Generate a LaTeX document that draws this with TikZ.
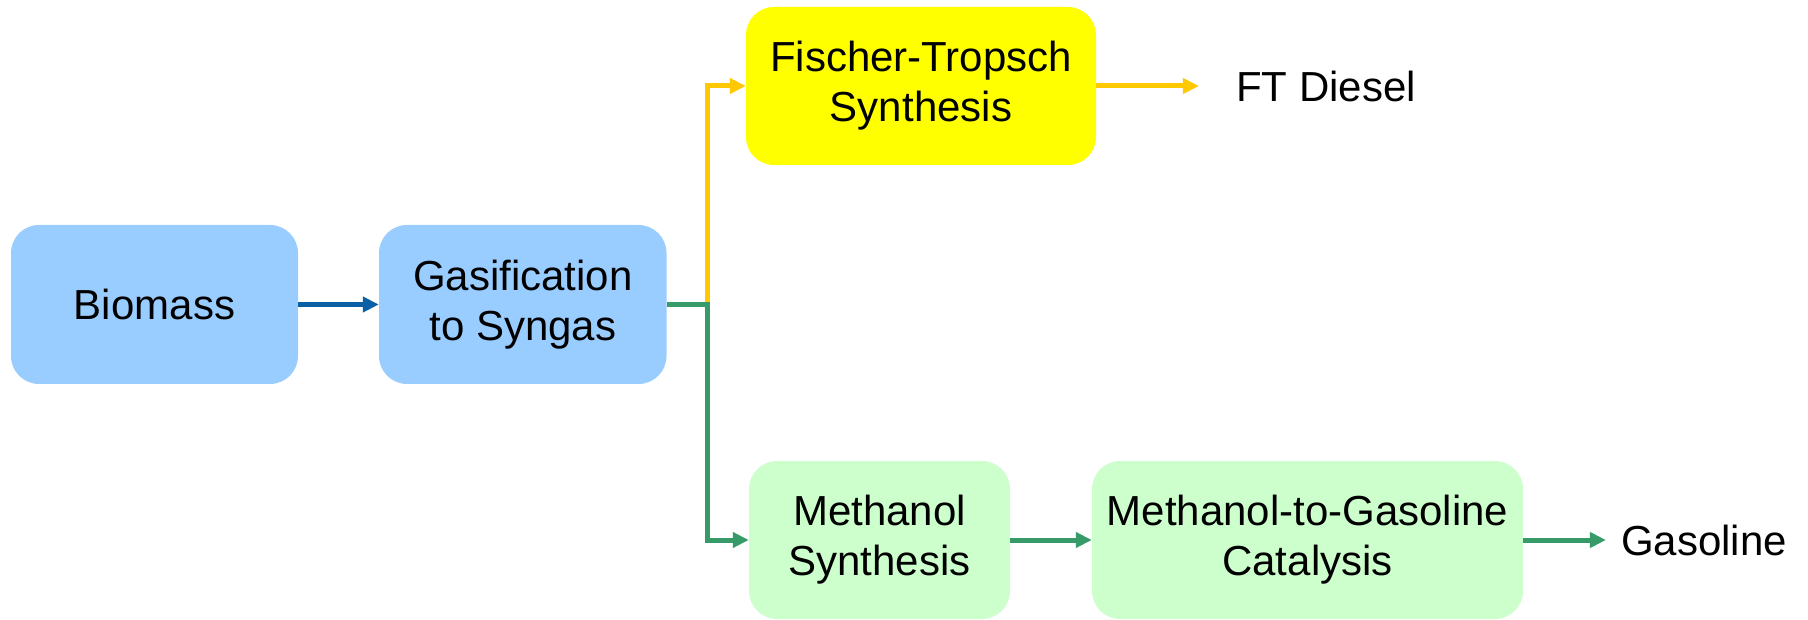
\documentclass[tikz,border=0pt]{standalone}
\usepackage{fontspec}
\setmainfont{Liberation Sans}
\usetikzlibrary{arrows.meta}
\definecolor{boxblue}{HTML}{99CCFF}
\definecolor{boxyellow}{HTML}{FFFF00}
\definecolor{boxgreen}{HTML}{CCFFCC}
\definecolor{lineblue}{HTML}{0B5FA5}
\definecolor{lineyellow}{HTML}{FFC800}
\definecolor{linegreen}{HTML}{369B68}
\tikzset{
  procbox/.style={rounded corners=28pt, align=center, inner sep=0pt,
    font=\fontsize{42}{50}\selectfont},
  label/.style={font=\fontsize{42}{50}\selectfont, inner ysep=0pt},
  flow/.style={line width=5pt, -{Triangle[length=16pt,width=15pt]}},
}
\begin{document}
\begin{tikzpicture}[x=1pt,y=1pt]
\useasboundingbox (0,0) rectangle (1808,-620);
\node[procbox, fill=boxblue, minimum width=287pt, minimum height=159pt] (bio) at (154.5,-304.5) {Biomass};
\node[procbox, fill=boxblue, minimum width=287.5pt, minimum height=159pt] (gas) at (522.75,-304.5) {Gasification\\to Syngas};
\node[procbox, fill=boxyellow, minimum width=350pt, minimum height=158pt] (ft) at (921,-86) {Fischer-Tropsch\\Synthesis};
\node[procbox, fill=boxgreen, minimum width=261pt, minimum height=158pt] (meth) at (879.5,-540) {Methanol\\Synthesis};
\node[procbox, fill=boxgreen, minimum width=431pt, minimum height=158pt] (mtg) at (1307.5,-540) {Methanol-to-Gasoline\\Catalysis};
\node[label, inner xsep=37pt] (diesel) at (1326,-86) {FT Diesel};
\node[label, inner xsep=15pt] (gasoline) at (1704,-540) {Gasoline};
\coordinate (j) at (707,-304.5);
\draw[flow, lineblue] (bio) -- (gas);
\draw[flow, lineyellow] (j) |- (ft.west);
\draw[flow, linegreen] (gas.east) -- (j) |- (meth.west);
\draw[flow, lineyellow] (ft.east) -- (diesel.west);
\draw[flow, linegreen] (meth.east) -- (mtg.west);
\draw[flow, linegreen] (mtg.east) -- (gasoline.west);
\end{tikzpicture}
\end{document}
